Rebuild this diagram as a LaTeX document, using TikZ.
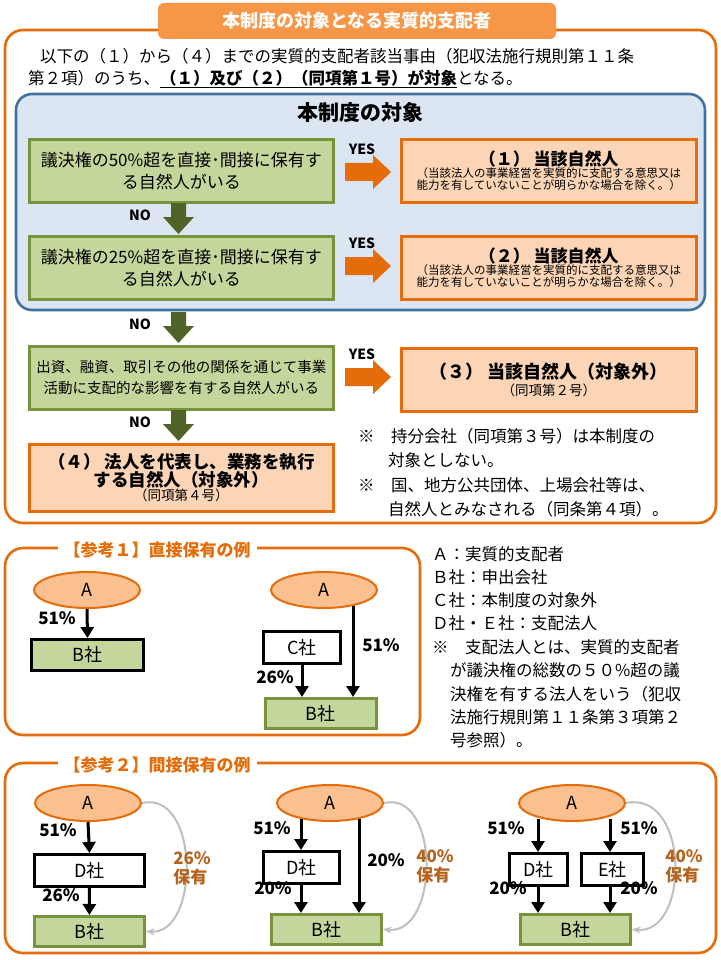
\documentclass[tikz,border=0pt]{standalone}
\usepackage{fontspec}
\setmainfont{Noto Sans CJK JP}
\usetikzlibrary{arrows.meta,shapes.geometric}
\definecolor{gfill}{HTML}{C3D69B}\definecolor{gline}{HTML}{77933C}
\definecolor{ofill}{HTML}{FBD5B5}\definecolor{oline}{HTML}{E46C0A}
\definecolor{tfill}{HTML}{F79646}\definecolor{bfill}{HTML}{DCE6F2}
\definecolor{bline}{HTML}{41719C}\definecolor{narrow}{HTML}{4F6228}
\definecolor{efill}{HTML}{FAC090}\definecolor{brown}{HTML}{B5641E}
\begin{document}
\begin{tikzpicture}[x=1pt,y=-1pt,
 gbox/.style={draw=gline,fill=gfill,line width=2.6pt,anchor=north west,align=center,inner sep=1pt},
 obox/.style={draw=oline,fill=ofill,line width=2.6pt,anchor=north west,align=center,inner sep=1pt},
 ell/.style={ellipse,draw=oline,fill=efill,line width=2pt,minimum width=106pt,minimum height=36pt,font=\fontsize{18}{18}\selectfont},
 wbox/.style={draw=black,fill=white,line width=3pt,anchor=north west,font=\fontsize{18}{18}\selectfont},
 bbox/.style={draw=black,fill=gfill,line width=3pt,anchor=north west,font=\fontsize{18}{18}\selectfont},
 bbox2/.style={draw=gline,fill=gfill,line width=2.6pt,anchor=north west,font=\fontsize{18}{18}\selectfont},
 pct/.style={font=\bfseries\fontsize{17}{17}\selectfont,inner sep=0pt},
 lbl/.style={font=\bfseries\fontsize{14}{14}\selectfont,inner sep=0pt},
 brn/.style={font=\bfseries\fontsize{17}{19}\selectfont,text=brown,align=left,inner sep=0pt},
 harr/.style={-{Triangle[length=11pt,width=13pt]},line width=3pt},
 garc/.style={-{Stealth[length=9pt]},draw=black!25,line width=2pt},
 txt/.style={font=\fontsize{16.5}{16.5}\selectfont,anchor=west,inner sep=0pt}]
\useasboundingbox (0,0) rectangle (720,960);
\fill[white] (0,0) rectangle (720,960);
% outer box
\draw[oline,line width=2.6pt,rounded corners=18pt] (5,30) rectangle (716,523);
\node[fill=tfill,rounded corners=6pt,minimum width=398pt,minimum height=36pt,text=white,font=\bfseries\fontsize{18}{18}\selectfont] (title) at (357,21) {本制度の対象となる実質的支配者};
\node[txt] (i1) at (40,56) {以下の（１）から（４）までの実質的支配者該当事由（犯収法施行規則第１１条};
\node[txt] (i2) at (28,79) {第２項）のうち、\underline{\bfseries（１）及び（２）（同項第１号）が対象}となる。};
% blue box
\draw[bline,fill=bfill,line width=2.6pt,rounded corners=16pt] (16,94) rectangle (705,310);
\node[font=\bfseries\fontsize{21}{21}\selectfont] (bt) at (360,113) {本制度の対象};
% row boxes
\node[gbox,minimum width=304pt,minimum height=63pt,font=\fontsize{17}{22}\selectfont] (g1) at (28,138) {議決権の50\%超を直接･間接に保有す\\る自然人がいる};
\node[gbox,minimum width=304pt,minimum height=63pt,font=\fontsize{17}{22}\selectfont] (g2) at (28,235) {議決権の25\%超を直接･間接に保有す\\る自然人がいる};
\node[gbox,minimum width=304pt,minimum height=63pt,font=\fontsize{14.5}{21}\selectfont] (g3) at (28,345) {出資、融資、取引その他の関係を通じて事業\\活動に支配的な影響を有する自然人がいる};
\node[obox,minimum width=295pt,minimum height=63pt] (o1) at (400,138) {{\bfseries\fontsize{17}{22}\selectfont（１） 当該自然人}\\{\fontsize{11.5}{15}\selectfont（当該法人の事業経営を実質的に支配する意思又は}\\{\fontsize{11.5}{15}\selectfont 能力を有していないことが明らかな場合を除く。）}};
\node[obox,minimum width=295pt,minimum height=63pt] (o2) at (400,235) {{\bfseries\fontsize{17}{22}\selectfont（２） 当該自然人}\\{\fontsize{11.5}{15}\selectfont（当該法人の事業経営を実質的に支配する意思又は}\\{\fontsize{11.5}{15}\selectfont 能力を有していないことが明らかな場合を除く。）}};
\node[obox,minimum width=295pt,minimum height=63pt] (o3) at (400,347) {{\bfseries\fontsize{18}{22}\selectfont（３） 当該自然人（対象外）}\\[2pt]{\fontsize{13.5}{16}\selectfont（同項第２号）}};
\node[obox,minimum width=304pt,minimum height=67pt] (o4) at (28,443) {{\bfseries\fontsize{17.5}{21}\selectfont（４） 法人を代表し、業務を執行}\\{\bfseries\fontsize{17.5}{21}\selectfont する自然人（対象外）}\\{\fontsize{13.5}{16}\selectfont（同項第４号）}};
% YES arrows
\foreach \yy in {172,266,377}{
 \fill[oline] (345,\yy-9) -- (373,\yy-9) -- (373,\yy-17) -- (391,\yy) -- (373,\yy+17) -- (373,\yy+9) -- (345,\yy+9) -- cycle;
 \node[lbl] at (362,\yy-23) {YES};}
% NO arrows
\foreach \yy in {203,312,410}{
 \fill[narrow] (171,\yy) -- (186,\yy) -- (186,\yy+14) -- (194,\yy+14) -- (178.5,\yy+31) -- (163,\yy+14) -- (171,\yy+14) -- cycle;
 \node[lbl] at (140,\yy+12) {NO};}
% notes
\node[txt] (n1) at (358,436) {※\quad 持分会社（同項第３号）は本制度の};
\node[txt] (n2) at (388,460) {対象としない。};
\node[txt] (n3) at (358,485) {※\quad 国、地方公共団体、上場会社等は、};
\node[txt] (n4) at (388,509) {自然人とみなされる（同条第４項）。};
% ref 1
\draw[oline,line width=2.6pt,rounded corners=18pt] (5,548) rectangle (420,735);
\node[fill=white,text=oline,font=\bfseries\fontsize{17}{17}\selectfont,inner xsep=6pt] (r1) at (157,550) {【参考１】直接保有の例};
\node[ell] (a1) at (87,590) {A};
\node[bbox,minimum width=112pt,minimum height=31pt] (b1) at (30,638) {B社};
\draw[harr] (a1.south) -- (b1.north);
\node[pct] at (57,618) {51\%};
\node[ell] (a2) at (324,590) {A};
\node[wbox,minimum width=77pt,minimum height=32pt] (c2) at (262,630) {C社};
\node[bbox2,minimum width=111pt,minimum height=30pt] (b2) at (264,697) {B社};
\draw[harr] (c2.south) -- (c2.south |- b2.north);
\draw[harr] (353,606) -- (353,697);
\node[pct] at (275,677) {26\%};
\node[pct] at (381,645) {51\%};
% legend
\node[txt] (l1) at (432,554) {Ａ：実質的支配者};
\node[txt] (l2) at (432,577) {Ｂ社：申出会社};
\node[txt] (l3) at (432,600) {Ｃ社：本制度の対象外};
\node[txt] (l4) at (432,623) {Ｄ社・Ｅ社：支配法人};
\node[txt] (l5) at (432,647) {※\quad 支配法人とは、実質的支配者};
\node[txt] (l6) at (450,670) {が議決権の総数の５０\%超の議};
\node[txt] (l7) at (450,694) {決権を有する法人をいう（犯収};
\node[txt] (l8) at (450,717) {法施行規則第１１条第３項第２};
\node[txt] (l9) at (450,740) {号参照）。};
% ref 2
\draw[oline,line width=2.6pt,rounded corners=18pt] (5,763) rectangle (716,953);
\node[fill=white,text=oline,font=\bfseries\fontsize{17}{17}\selectfont,inner xsep=6pt] (r2) at (157,765) {【参考２】間接保有の例};
% group 1
\node[ell] (pa) at (88,803) {A};
\node[wbox,minimum width=110pt,minimum height=32pt] (pd) at (33,853) {D社};
\node[bbox2,minimum width=110pt,minimum height=30pt] (pb) at (33,915) {B社};
\draw[harr] (pa.south) -- (pd.north);
\draw[harr] (pd.south) -- (pb.north);
\node[pct] at (58,830) {51\%};
\node[pct] at (61,895) {26\%};
\draw[garc] (pa.east) .. controls (200,790) and (200,935) .. (pb.east);
\node[brn] at (192,868) {26\%\\保有};
% group 2
\node[ell] (qa) at (330,803) {A};
\node[wbox,minimum width=76pt,minimum height=32pt] (qd) at (262,850) {D社};
\node[bbox2,minimum width=110pt,minimum height=30pt] (qb) at (270,913) {B社};
\draw[harr] (301,819) -- (301,850);
\draw[harr] (301,882) -- (301,913);
\draw[harr] (359,819) -- (359,913);
\node[pct] at (272,828) {51\%};
\node[pct] at (273,888) {20\%};
\node[pct] at (386,860) {20\%};
\draw[garc] (qa.east) .. controls (440,790) and (440,935) .. (qb.east);
\node[brn] at (435,866) {40\%\\保有};
% group 3
\node[ell] (sa) at (572,803) {A};
\node[wbox,minimum width=58pt,minimum height=32pt] (sd) at (508,852) {D社};
\node[wbox,minimum width=62pt,minimum height=32pt] (se) at (580,852) {E社};
\node[bbox2,minimum width=110pt,minimum height=30pt] (sb) at (519,913) {B社};
\draw[harr] (538,819) -- (538,852);
\draw[harr] (610,819) -- (610,852);
\draw[harr] (538,885) -- (538,913);
\draw[harr] (610,885) -- (610,913);
\node[pct] at (506,828) {51\%};
\node[pct] at (639,828) {51\%};
\node[pct] at (508,888) {20\%};
\node[pct] at (639,888) {20\%};
\draw[garc] (sa.east) .. controls (690,790) and (690,935) .. (sb.east);
\node[brn] at (684,866) {40\%\\保有};
\end{tikzpicture}
\end{document}
